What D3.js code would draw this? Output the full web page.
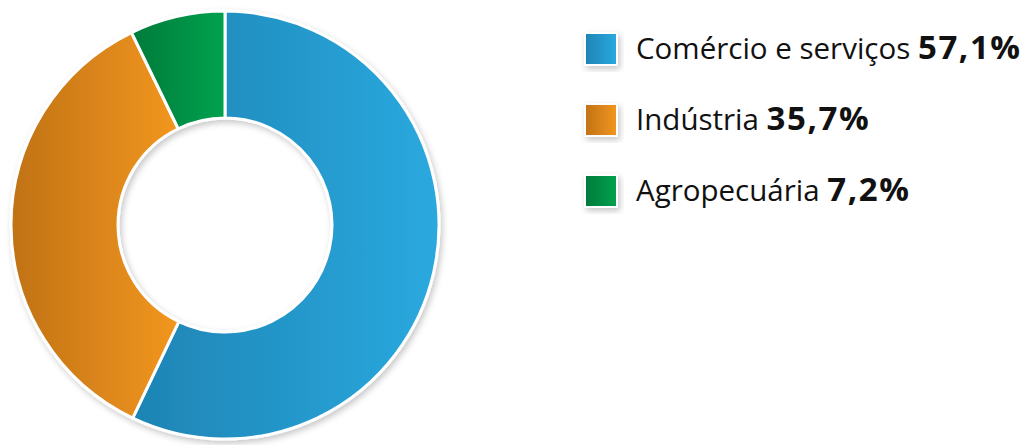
<!DOCTYPE html>
<html><head><meta charset="utf-8">
<script src="https://cdn.jsdelivr.net/npm/d3@7"></script>
<style>html,body{margin:0;padding:0;background:#fff;}svg{display:block;}</style>
</head><body>
<svg id="chart" width="1033" height="445"></svg>
<script>
const categories = ["Comércio e serviços", "Indústria", "Agropecuária"];
const values = [57.1, 35.7, 7.2];
const valueLabels = ["57,1%", "35,7%", "7,2%"];
const colorsDark = ["#1e84b4", "#c07216", "#007a3a"];
const colorsLight = ["#2aa9df", "#f2961f", "#00a24f"];

const svg = d3.select("#chart");
const defs = svg.append("defs");
const f = defs.append("filter").attr("id","sh").attr("x","-20%").attr("y","-20%").attr("width","140%").attr("height","140%");
f.append("feDropShadow").attr("dx",2).attr("dy",3).attr("stdDeviation",3).attr("flood-color","#000").attr("flood-opacity",0.22);

categories.forEach((c,i)=>{
  const g = defs.append("linearGradient").attr("id","g"+i).attr("x1","0%").attr("x2","100%").attr("y1","0%").attr("y2","0%");
  g.append("stop").attr("offset","0%").attr("stop-color",colorsDark[i]);
  g.append("stop").attr("offset","100%").attr("stop-color",colorsLight[i]);
});

const cx = 225, cy = 225, R = 214, r = 107;
const pie = d3.pie().sort(null).value(d=>d);
const arc = d3.arc().innerRadius(r).outerRadius(R);
const arcs = pie(values);

const g = svg.append("g").attr("transform",`translate(${cx},${cy})`);
const shadowG = g.append("g").attr("filter","url(#sh)");
shadowG.selectAll("path").data(arcs).join("path")
  .attr("d", arc)
  .attr("fill",(d,i)=>`url(#g${i})`)
  .attr("stroke","#fff").attr("stroke-width",3).attr("stroke-linejoin","round");

// legend
const lx = 585, ly0 = 49, step = 71, sq = 32;
const leg = svg.append("g");
categories.forEach((c,i)=>{
  const y = ly0 + i*step;
  leg.append("rect").attr("x",lx).attr("y",y-sq/2).attr("width",sq).attr("height",sq)
    .attr("fill",`url(#g${i})`).attr("stroke","#fff").attr("stroke-width",2).attr("filter","url(#sh)");
  const t = leg.append("text").attr("x",lx+51).attr("y",y+10)
    .attr("font-family","Open Sans, sans-serif").attr("font-size",29.5).attr("fill","#111");
  t.append("tspan").text(c+" ").attr("font-weight",400);
  t.append("tspan").text(valueLabels[i]).attr("font-weight",700).attr("font-size",33).attr("letter-spacing",1.6);
});
</script>
</body></html>
